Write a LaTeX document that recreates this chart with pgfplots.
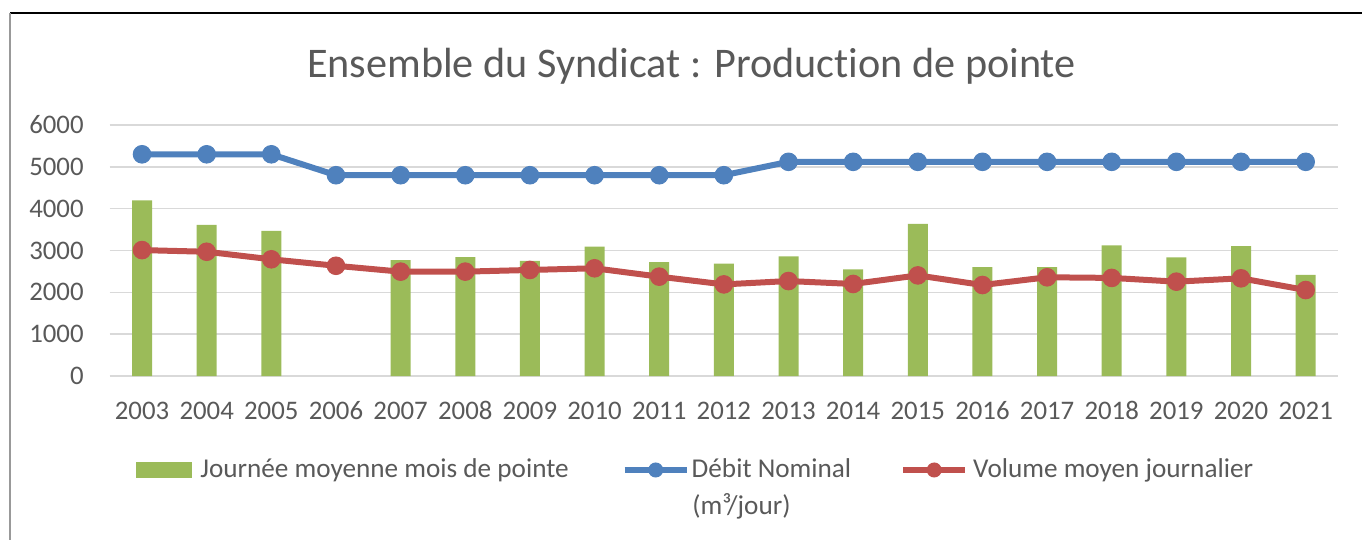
\documentclass[border=0pt]{standalone}
\usepackage{fontspec}
\setmainfont[Ligatures={NoCommon}]{Carlito}
\usepackage{pgfplots}
\pgfplotsset{compat=1.18}
\definecolor{cgreen}{HTML}{9BBB59}
\definecolor{cblue}{HTML}{4F81BD}
\definecolor{cred}{HTML}{C0504D}
\definecolor{cgrid}{HTML}{D9D9D9}
\definecolor{ctext}{HTML}{595959}
\pgfplotsset{
  mylinelegend/.style={legend image code/.code={\draw[##1, mark repeat=2, mark phase=2, mark size=3.5pt] plot coordinates {(0pt,0pt) (15.5pt,0pt) (31pt,0pt)};}},
  mybarlegend/.style={legend image code/.code={\fill[cgreen] (0pt,-4pt) rectangle (28pt,4pt);}},
}
\begin{document}
\begin{tikzpicture}
\path[use as bounding box] (0pt,0pt) rectangle (681pt,-270pt);
\draw[black, line width=0.7pt] (5pt,-6.5pt) -- (681pt,-6.5pt);
\draw[gray!80, line width=1pt] (5pt,-6.5pt) -- (5pt,-270pt);
\node[font=\fontsize{21.1}{24}\selectfont, text=ctext, anchor=base] at (345.75pt,-39pt) {Ensemble du Syndicat : Production de pointe};
\begin{axis}[
  at={(54.85pt,-188pt)}, anchor=south west,
  scale only axis, width=614.15pt, height=125.5pt,
  xmin=-0.5, xmax=18.5, ymin=0, ymax=6000,
  ytick={0,1000,...,6000},
  xtick={0,...,18},
  xticklabels={2003,2004,2005,2006,2007,2008,2009,2010,2011,2012,2013,2014,2015,2016,2017,2018,2019,2020,2021},
  scaled y ticks=false,
  /pgf/number format/1000 sep={},
  /pgf/number format/assume math mode=true,
  axis line style={draw=none},
  tick style={draw=none},
  ymajorgrids, grid style={cgrid, line width=0.75pt},
  tick label style={font=\fontsize{13.4}{15}\selectfont, text=ctext},
  xticklabel style={anchor=base, yshift=-21.5pt},
  yticklabel style={anchor=east, xshift=-9.5pt},
  clip=false,
  legend columns=3,
  legend cell align=left,
  legend style={at={(0.0214,-0.3745)}, anchor=west, draw=none, fill=none, inner sep=0pt,
    font=\fontsize{13.6}{15}\selectfont, text=ctext,
    nodes={inner sep=1.5pt},
    /tikz/column 1/.style={column sep=2.5pt},
    /tikz/column 2/.style={column sep=25pt},
    /tikz/column 3/.style={column sep=-0.5pt},
    /tikz/column 4/.style={column sep=23pt},
    /tikz/column 5/.style={column sep=1pt}},
]
\addplot[ybar, bar width=10pt, fill=cgreen, draw=none, mybarlegend]
  coordinates {(0,4200) (1,3610) (2,3470) (4,2770) (5,2840) (6,2750) (7,3090) (8,2725) (9,2685) (10,2860) (11,2550) (12,3635) (13,2600) (14,2600) (15,3125) (16,2835) (17,3105) (18,2415)};
\addlegendentry{Journée moyenne mois de pointe}
\addplot[cblue, line width=3pt, mark=*, mark size=4.4pt, mark options={fill=cblue, draw=cblue, line width=0.5pt}, mylinelegend]
  coordinates {(0,5300) (1,5300) (2,5300) (3,4800) (4,4800) (5,4800) (6,4800) (7,4800) (8,4800) (9,4800) (10,5120) (11,5120) (12,5120) (13,5120) (14,5120) (15,5120) (16,5120) (17,5120) (18,5120)};
\addlegendentry{Débit Nominal}
\addplot[cred, line width=3pt, mark=*, mark size=4.4pt, mark options={fill=cred, draw=cred, line width=0.5pt}, mylinelegend]
  coordinates {(0,3010) (1,2970) (2,2790) (3,2635) (4,2495) (5,2495) (6,2535) (7,2575) (8,2375) (9,2190) (10,2270) (11,2200) (12,2405) (13,2175) (14,2360) (15,2345) (16,2255) (17,2335) (18,2055)};
\addlegendentry{Volume moyen journalier}
\end{axis}
\node[anchor=base west, font=\fontsize{13.6}{15}\selectfont, text=ctext, inner sep=0pt] at (346pt,-257pt) {(m³/jour)};
\end{tikzpicture}
\end{document}
